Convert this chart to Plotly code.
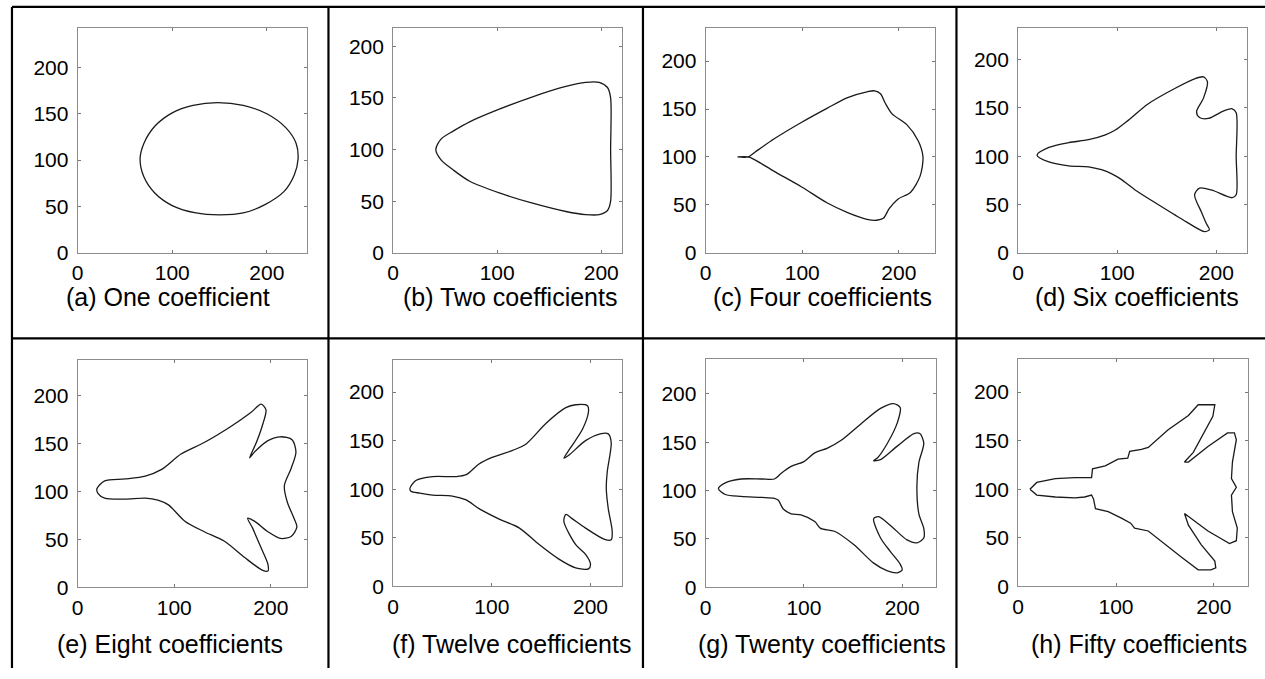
import plotly.graph_objects as go

# ---- data: contour points (data units) ----
captions = ["(a) One coefficient", "(b) Two coefficients", "(c) Four coefficients",
            "(d) Six coefficients", "(e) Eight coefficients", "(f) Twelve coefficients",
            "(g) Twenty coefficients", "(h) Fifty coefficients"]

xa = [66, 70, 82, 100, 122, 148, 175, 200, 220, 231, 233, 229, 218, 198, 175, 150, 125, 100, 82, 70, 66]
ya = [101, 118, 137, 151, 159, 162, 159, 150, 135, 118, 101, 84, 66, 52, 43, 41, 43, 51, 64, 82, 101]

xb = [41, 46, 58, 74, 102, 134, 166, 185, 198, 206, 209, 209, 209, 206, 198, 185, 166, 134, 102, 74, 58, 46, 41]
yb = [100, 110, 118, 127, 139, 151, 161, 165, 165, 160, 150, 100, 50, 41, 37, 37, 40, 48, 58, 69, 80, 90, 100]

xc = [33, 44, 51, 71, 99, 126, 147, 167, 175, 181, 186, 193, 208, 220, 225, 222, 212, 199, 190, 184, 177, 167, 147, 126, 99, 71, 51, 44, 33]
yc = [100, 100, 105, 119, 136, 151, 162, 168, 169, 166, 156, 145, 134, 117, 100, 80, 63, 56, 46, 36, 34, 35, 42, 52, 69, 85, 97, 100, 100]

xd = [19, 31, 51, 71, 88, 98, 111, 131, 158, 178, 187, 191, 187, 180, 183, 192, 208, 216, 220, 220, 220, 216, 195, 183, 178, 185, 190, 193, 188, 165, 138, 118, 104, 94, 84, 71, 51, 31, 19]
yd = [101, 109, 114, 117, 122, 127, 137, 154, 170, 180, 182, 177, 160, 146, 140, 139, 147, 149, 145, 100, 60, 57, 65, 67, 60, 42, 30, 24, 22, 35, 52, 65, 76, 82, 86, 89, 90, 94, 101]

xe = [20, 28, 49, 70, 87, 107, 131, 159, 179, 190, 195, 191, 185, 178, 183, 197, 210, 222, 226, 221, 214, 217, 224, 227, 221, 210, 197, 183, 176, 181, 190, 197, 197, 191, 173, 152, 131, 111, 94, 83, 70, 49, 28, 21, 20]
ye = [103, 111, 113, 116, 123, 139, 151, 168, 182, 191, 185, 168, 151, 135, 141, 153, 157, 154, 141, 124, 106, 89, 72, 63, 53, 51, 58, 69, 72, 62, 41, 24, 17, 18, 31, 48, 58, 69, 86, 91, 93, 92, 93, 98, 103]

xf = [17, 23, 40, 64, 74, 87, 101, 121, 134, 155, 175, 185, 197, 198, 192, 180, 173, 178, 195, 210, 218, 221, 217, 216, 218, 222, 221, 215, 195, 181, 175, 173, 185, 195, 200, 198, 185, 168, 148, 128, 108, 87, 74, 60, 40, 27, 18, 17]
yf = [101, 109, 113, 113, 115, 126, 133, 140, 146, 168, 184, 187, 186, 180, 162, 143, 132, 135, 150, 157, 157, 148, 118, 101, 80, 57, 48, 48, 60, 70, 74, 67, 43, 33, 23, 18, 19, 28, 43, 60, 69, 80, 89, 93, 94, 96, 98, 101]

xg = [13, 20, 36, 57, 70, 77, 87, 100, 111, 124, 138, 158, 178, 191, 198, 195, 185, 175, 171, 178, 195, 212, 218, 222, 217, 215, 217, 222, 222, 215, 205, 188, 176, 171, 178, 188, 198, 200, 195, 185, 171, 151, 131, 117, 111, 97, 87, 79, 74, 70, 57, 36, 20, 13]
yg = [102, 108, 112, 112, 112, 118, 125, 130, 139, 144, 152, 169, 185, 190, 186, 170, 149, 134, 131, 132, 146, 159, 159, 149, 129, 105, 76, 61, 51, 46, 49, 64, 73, 71, 51, 37, 24, 18, 15, 17, 25, 44, 58, 61, 68, 75, 76, 81, 90, 92, 93, 94, 96, 102]

xh = [12, 19, 38, 58, 75, 76, 89, 102, 112, 114, 126, 133, 153, 174, 184, 201, 199, 190, 179, 170, 174, 194, 214, 221, 223, 219, 218, 223, 218, 219, 224, 223, 216, 194, 180, 170, 174, 187, 201, 202, 197, 184, 167, 146, 133, 119, 115, 106, 92, 79, 77, 75, 68, 58, 38, 19, 12]
yh = [100, 107, 111, 112, 112, 121, 124, 131, 132, 139, 141, 143, 161, 176, 187, 187, 175, 158, 138, 128, 128, 144, 158, 158, 151, 128, 111, 102, 94, 77, 60, 47, 44, 57, 67, 75, 63, 43, 26, 19, 17, 17, 30, 47, 57, 60, 65, 70, 77, 80, 90, 94, 92, 91, 92, 94, 100]

shapes_xy = [(xa, ya), (xb, yb), (xc, yc), (xd, yd), (xe, ye), (xf, yf), (xg, yg), (xh, yh)]
x_max = [242, 220, 237, 231, 237, 232, 234, 235]
y_max = [243, 218, 235, 233, 237, 233, 236, 234]

# ---- layout geometry (pixels) ----
W, H = 1265, 679
boxes = [(72, 302, 28, 257), (389, 619, 28, 257), (703, 933, 28, 257), (1017, 1247, 28, 257),
         (72, 302, 366, 597), (389, 619, 366, 596), (703, 934, 365, 597), (1017, 1248, 365, 596)]
cap_pos = [(163, 302), (506, 302), (820, 302), (1136, 302),
           (165, 655), (508, 655), (820, 655), (1138, 655)]

fig = go.Figure()
layout = dict(width=W, height=H, margin=dict(l=0, r=0, t=0, b=0), autosize=False,
              paper_bgcolor="white", plot_bgcolor="white", showlegend=False,
              font=dict(family="Liberation Sans, Arial, sans-serif", color="black"))

for i, ((xs, ys), (l, r, t, b)) in enumerate(zip(shapes_xy, boxes)):
    n = "" if i == 0 else str(i + 1)
    fig.add_trace(go.Scatter(x=xs, y=ys, mode="lines",
                             line=dict(color="#1a1a1a", width=1.3,
                                       shape="spline" if i < 7 else "linear",
                                       smoothing=0.8),
                             xaxis="x" + n, yaxis="y" + n, hoverinfo="skip"))
    common = dict(showgrid=False, zeroline=False, showline=True, linecolor="#8c8c8c",
                  linewidth=1, mirror="ticks", ticks="inside", ticklen=3,
                  tickcolor="#777", tickfont=dict(size=21, color="black"))
    layout["xaxis" + n] = dict(domain=[l / W, r / W], range=[0, x_max[i]],
                               tickvals=[0, 100, 200], anchor="y" + n,
                               ticklabelstandoff=1, **common)
    layout["yaxis" + n] = dict(domain=[1 - b / H, 1 - t / H], range=[0, y_max[i]],
                               tickvals=[0, 50, 100, 150, 200], anchor="x" + n,
                               ticklabelstandoff=4, **common)

annotations = []
for txt, (cx, cy) in zip(captions, cap_pos):
    annotations.append(dict(text=txt, x=cx / W, y=1 - cy / H, xref="paper", yref="paper",
                            xanchor="center", yanchor="middle", showarrow=False,
                            font=dict(size=25, color="black")))
layout["annotations"] = annotations

# cell borders
lines = []
def seg(x0, y0, x1, y1):
    lines.append(dict(type="line", xref="paper", yref="paper",
                      x0=x0 / W, y0=1 - y0 / H, x1=x1 / W, y1=1 - y1 / H,
                      line=dict(color="black", width=2.2)))
seg(6, 7, W, 7)
seg(6, 344, W, 344)
seg(6, 7, 6, H)
for vx in (324, 640, 955):
    seg(vx, 7, vx, H)
layout["shapes"] = lines

fig.update_layout(**layout)
fig.write_html("out.html",
               post_script="document.body.style.margin='0';document.body.style.overflow='hidden';")
